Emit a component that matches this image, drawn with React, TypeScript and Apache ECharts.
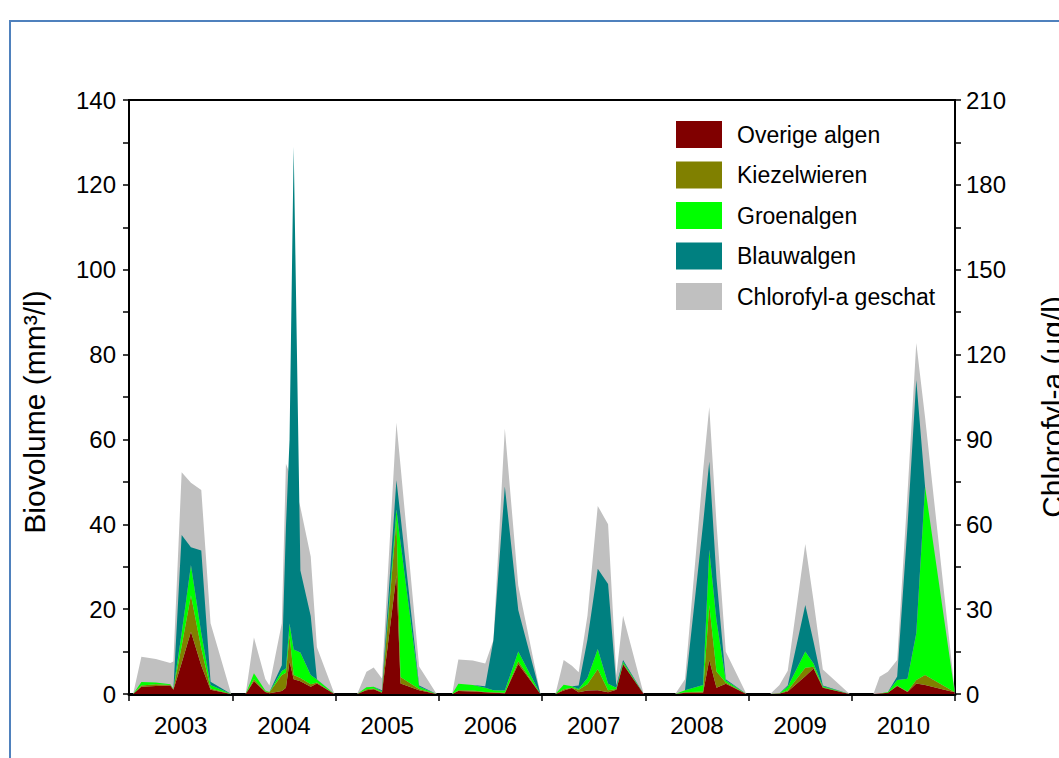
import React, { useEffect, useRef } from 'react';
import * as echarts from 'echarts';

// Sample dates as fractional years
const sampleDates = [
  2003.04, 2003.12, 2003.26, 2003.40, 2003.43, 2003.51, 2003.60, 2003.70, 2003.79, 2003.99,
  2004.13, 2004.21, 2004.32, 2004.36, 2004.48, 2004.52, 2004.555, 2004.595, 2004.66, 2004.76, 2004.82, 2004.99,
  2005.21, 2005.30, 2005.37, 2005.45, 2005.59, 2005.63, 2005.81, 2005.98,
  2006.13, 2006.19, 2006.33, 2006.45, 2006.53, 2006.64, 2006.77, 2006.985,
  2007.13, 2007.21, 2007.29, 2007.355, 2007.44, 2007.54, 2007.64, 2007.72, 2007.785, 2007.985,
  2008.29, 2008.385, 2008.56, 2008.62, 2008.69, 2008.78, 2008.98,
  2009.21, 2009.30, 2009.38, 2009.55, 2009.63, 2009.72, 2009.98,
  2010.21, 2010.27, 2010.35, 2010.44, 2010.54, 2010.625, 2010.71, 2010.995,
];

const overigeAlgen = [
  0, 1.7, 1.9, 2.0, 1.0, 7.3, 14.7, 6.7, 1.0, 0,
  0, 3.0, 0.5, 0.2, 0.7, 1.5, 7.7, 3.5, 3.0, 1.7, 2.5, 0,
  0, 0.9, 1.1, 0.3, 28, 2.5, 0.9, 0,
  0, 0.7, 0.6, 0.4, 0.3, 0.2, 7.1, 0,
  0, 0.8, 1.4, 0.4, 0.8, 0.9, 0.4, 1.0, 7.0, 0,
  0, 0.3, 0.3, 8, 1.5, 2.4, 0,
  0, 0.1, 0.6, 4.2, 6.0, 1.5, 0,
  0, 0.1, 0.3, 1.9, 0.5, 2.5, 2.1, 0.4,
];

const kiezelwieren = [
  0, 0.3, 0.4, 0.1, 0.1, 4.0, 8.6, 4.1, 0.3, 0,
  0, 0.5, 0.1, 0.2, 3.8, 3.5, 6.1, 1.0, 0.8, 0.6, 0.2, 0,
  0, 0.2, 0.2, 0.1, 13, 1.5, 0.3, 0,
  0, 0.2, 0.2, 0.1, 0.1, 0.1, 0.6, 0,
  0, 0.3, 0.1, 0.6, 1.5, 5.0, 0.5, 0.2, 0.2, 0,
  0, 0.1, 0.3, 13, 3.8, 0.3, 0,
  0, 0, 0.3, 2.0, 0.4, 0.1, 0,
  0, 0, 0, 0.1, 0.1, 0.8, 2.4, 0.1,
];

const groenalgen = [
  0, 0.8, 0.4, 0.2, 0.1, 3.1, 7.1, 3.6, 0.8, 0,
  0, 1.4, 0.2, 0.1, 0.9, 1.0, 2.8, 6.0, 6.0, 2.2, 0.7, 0,
  0, 0.5, 0.4, 0.2, 2.5, 31.7, 0.5, 0,
  0, 1.5, 1.3, 1.0, 0.5, 0.5, 2.3, 0,
  0, 1.1, 0.3, 0.2, 1.5, 4.7, 1.5, 0.3, 0.4, 0,
  0, 0.5, 1.5, 13, 12, 0.5, 0,
  0, 0.1, 0.8, 3.8, 0.8, 0.2, 0,
  0, 0, 0.2, 1.3, 3.0, 11, 44.4, 0.2,
];

const blauwalgen = [
  0, 0, 0, 0, 0, 23.1, 4.2, 19.4, 0.8, 0,
  0, 0, 0, 0, 1.4, 33.4, 43.4, 118.5, 19.3, 13.9, 0.1, 0,
  0, 0, 0, 0.3, 6.9, 6.2, 0.3, 0,
  0, 0, 0, 0.3, 11.8, 48.1, 9.8, 0,
  0, 0, 0, 0.8, 9, 18.9, 23.5, 0.5, 0.4, 0,
  0, 0, 38, 20.8, 10, 0.3, 0,
  0, 0, 0.3, 11, 5.1, 0.2, 0,
  0, 0, 0, 0.8, 36, 59.7, 0, 0,
];

const chlorofylGeschat = [
  0, 13.2, 12.4, 11.0, 11.5, 78.4, 74.7, 72.1, 25, 0,
  0, 20, 5.3, 3, 25, 81.4, 78, 75, 66, 48.6, 16.5, 0,
  0, 7.9, 9.4, 5.5, 95.9, 80.6, 9.7, 0,
  0, 12.2, 11.8, 10.8, 19.1, 93.9, 38.4, 0,
  0, 12, 10, 7.7, 27.7, 66.5, 60, 6.5, 27.7, 0,
  0, 5.2, 78.8, 101.5, 60.4, 14.9, 0,
  0, 3.2, 8.2, 53, 33, 8.7, 0,
  0, 6.1, 7.9, 12, 71, 124.1, 97.8, 2,
];

const yearLabels = ['2003', '2004', '2005', '2006', '2007', '2008', '2009', '2010'];
const legendNames = ['Overige algen', 'Kiezelwieren', 'Groenalgen', 'Blauwalgen', 'Chlorofyl-a geschat'];

const FONT = 'Arial, "Liberation Sans", Helvetica, sans-serif';

function areaSeries(name: string, color: string, values: number[], yAxisIndex: number, stack?: string) {
  return {
    name,
    type: 'line',
    stack,
    xAxisIndex: 0,
    yAxisIndex,
    data: sampleDates.map((d, i) => [values[i], d]),
    encode: { x: 1, y: 0 },
    symbol: 'none',
    showSymbol: false,
    lineStyle: { width: 0, color },
    itemStyle: { color },
    areaStyle: { color, opacity: 1 },
    emphasis: { disabled: true },
  };
}

export default function App() {
  const ref = useRef<HTMLDivElement>(null);
  useEffect(() => {
    const chart = echarts.init(ref.current!, null, { renderer: 'svg' });
    const option: any = {
      animation: false,
      backgroundColor: '#ffffff',
      grid: {
        left: 129, top: 100, width: 826, height: 594,
        show: true, borderColor: '#000', borderWidth: 2, backgroundColor: 'transparent',
        containLabel: false, outerBoundsMode: 'none',
      },
      graphic: [
        {
          type: 'rect', silent: true, z: -10,
          shape: { x: 10, y: 21, width: 1200, height: 900 },
          style: { fill: 'none', stroke: '#4F81BD', lineWidth: 2 },
        },
      ],
      legend: {
        orient: 'vertical', left: 671, top: 116,
        itemWidth: 46, itemHeight: 27, itemGap: 13.5,
        icon: 'rect', selectedMode: false,
        data: legendNames,
        itemStyle: { borderWidth: 0 },
        textStyle: { fontSize: 23, color: '#000', fontFamily: FONT, padding: [0, 0, 0, 10] },
      },
      xAxis: [
        {
          type: 'value', min: 2003, max: 2011, interval: 1, position: 'bottom',
          axisLine: { show: true, onZero: false, lineStyle: { color: '#000', width: 3 } },
          axisTick: { show: true, length: 7, lineStyle: { color: '#000', width: 1.5 } },
          axisLabel: { show: false },
          splitLine: { show: false },
        },
        {
          type: 'category', data: yearLabels, position: 'bottom', boundaryGap: true,
          axisLine: { show: false }, axisTick: { show: false }, splitLine: { show: false },
          axisLabel: { fontSize: 24, color: '#000', fontFamily: FONT, margin: 19 },
        },
      ],
      yAxis: [
        {
          type: 'value', min: 0, max: 140, interval: 20, position: 'left',
          name: 'Biovolume (mm³/l)', nameLocation: 'middle', nameRotate: 90, nameGap: 80,
          nameTextStyle: { fontSize: 30, color: '#000', fontFamily: FONT, padding: [0, 30, 0, 0] },
          axisLine: { show: true, lineStyle: { color: '#000', width: 2 } },
          axisTick: { show: true, length: 6, lineStyle: { color: '#000', width: 1.5 } },
          minorTick: { show: true, splitNumber: 2, length: 6, lineStyle: { color: '#000', width: 1.5 } },
          axisLabel: { fontSize: 24, color: '#000', fontFamily: FONT, margin: 13 },
          splitLine: { show: false }, minorSplitLine: { show: false },
        },
        {
          type: 'value', min: 0, max: 210, interval: 30, position: 'right',
          name: 'Chlorofyl-a (ug/l)', nameLocation: 'middle', nameRotate: 90, nameGap: 82,
          nameTextStyle: { fontSize: 30, color: '#000', fontFamily: FONT, padding: [0, 20, 0, 0] },
          axisLine: { show: true, lineStyle: { color: '#000', width: 2 } },
          axisTick: { show: true, length: 6, lineStyle: { color: '#000', width: 1.5 } },
          minorTick: { show: true, splitNumber: 2, length: 6, lineStyle: { color: '#000', width: 1.5 } },
          axisLabel: { fontSize: 24, color: '#000', fontFamily: FONT, margin: 11 },
          splitLine: { show: false }, minorSplitLine: { show: false },
        },
      ],
      series: [
        areaSeries('Chlorofyl-a geschat', '#C0C0C0', chlorofylGeschat, 1),
        areaSeries('Overige algen', '#800000', overigeAlgen, 0, 'algen'),
        areaSeries('Kiezelwieren', '#808000', kiezelwieren, 0, 'algen'),
        areaSeries('Groenalgen', '#00FF00', groenalgen, 0, 'algen'),
        areaSeries('Blauwalgen', '#008080', blauwalgen, 0, 'algen'),
      ],
    };
    chart.setOption(option);
    return () => chart.dispose();
  }, []);
  return (
    <div
      ref={ref}
      style={{ position: 'fixed', left: 0, top: 0, width: 1059, height: 758, background: '#fff' }}
    />
  );
}
